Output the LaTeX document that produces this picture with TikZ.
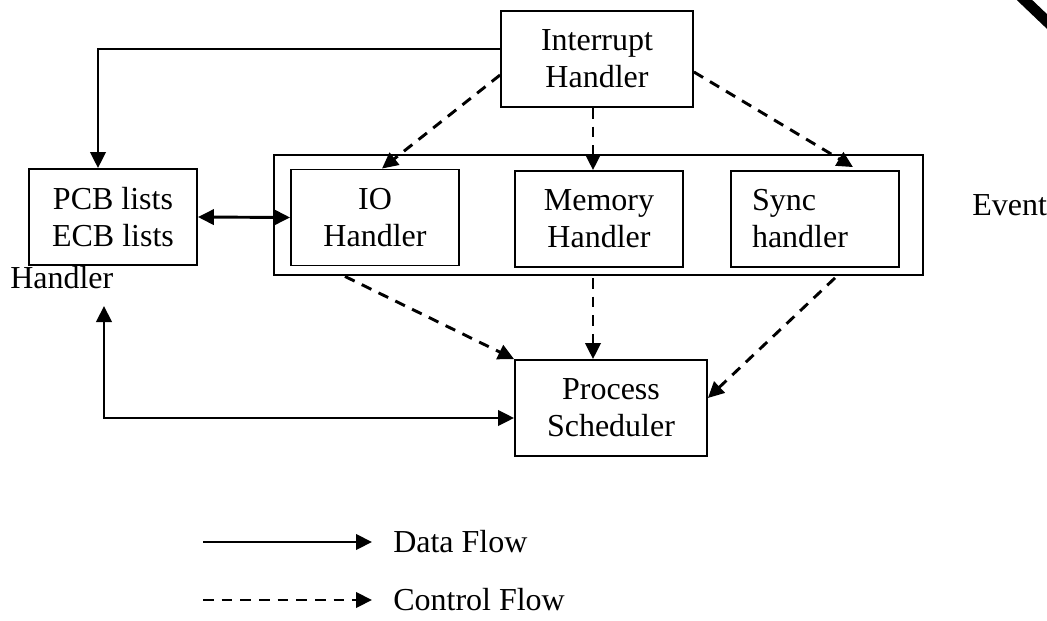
\documentclass[tikz,border=0pt]{standalone}
\usepackage{fontspec}
\setmainfont{Liberation Serif}
\usetikzlibrary{arrows.meta}
\usetikzlibrary{calc}
\tikzset{>={Triangle[length=12pt,width=11.5pt]}}
\tikzset{
  box/.style={draw, line width=1.4pt, minimum width=126pt, minimum height=72pt,
    align=center, inner sep=0pt, font=\fontsize{24}{27.75}\selectfont},
  lbl/.style={inner sep=0pt, font=\fontsize{24}{27.75}\selectfont},
  data/.style={line width=2.2pt, ->},
  ctrl/.style={line width=2.2pt, ->, dash pattern=on 8pt off 6pt}
}

\begin{document}
\begin{tikzpicture}[x=0.75pt, y=-0.75pt]

\useasboundingbox (0,0) rectangle (1047,621);

\node[box, minimum width=144pt] (int) at (597,59) {Interrupt\\Handler};
\node[box] (pcb) at (113,217) {PCB lists\\ECB lists};
\node[box, minimum width=486.75pt, minimum height=90pt] (event) at (598.5,215) {};
\node[box] (io) at (375,217.5) {IO\\Handler};
\node[box] (mem) at (599,219) {Memory\\Handler};
\node[box, text width=94.5pt, align=left, inner xsep=15.75pt] (sync) at (815,219) {Sync\\handler};
\node[box, minimum width=144pt] (sched) at (611,408) {Process\\Scheduler};

\node[lbl, anchor=base west] (evtxt) at (972,215) {Event};
\node[lbl, anchor=base west] (hdtxt) at (10,288) {Handler};

\coordinate (hnd) at (104,306);

\draw[data] ($(int.west)+(0,-10)$) -| ($(pcb.north)+(-15,0)$);
\draw[data, <->] (pcb.east) -- (io.west);
\draw[data, <->] (hnd) |- ($(sched.west)+(0,10)$);

\draw[ctrl] ($(int.west)+(0,16)$) -- ($(io.north)+(7,0)$);
\draw[ctrl] ($(int.south)+(-4,0)$) -- ($(int.south |- mem.north)+(-4,0)$);
\draw[ctrl] ($(int.east)+(0,13)$) -- ($(sync.north)+(38,-3)$);

\draw[ctrl] ($(io.south)+(-30,10)$) -- (sched.north west);
\draw[ctrl] ($(mem.south)+(-6,10)$) -- ($(mem.south |- sched.north)+(-6,0)$);
\draw[ctrl] ($(sync.south)+(20,10)$) -- ($(sched.east)+(0,-10)$);

% legend
\coordinate (d0) at (203,542);
\coordinate (d1) at (372,542);
\coordinate (c0) at (203,600);
\coordinate (c1) at (372,600);
\draw[data] (d0) -- (d1);
\draw[ctrl] (c0) -- (c1);
\node[lbl, anchor=west] (dtxt) at (393,542) {Data Flow};
\node[lbl, anchor=west] (ctxt) at (393,600) {Control Flow};

\draw[line width=8pt] (1014,-10) -- (1058,32);

\end{tikzpicture}
\end{document}
